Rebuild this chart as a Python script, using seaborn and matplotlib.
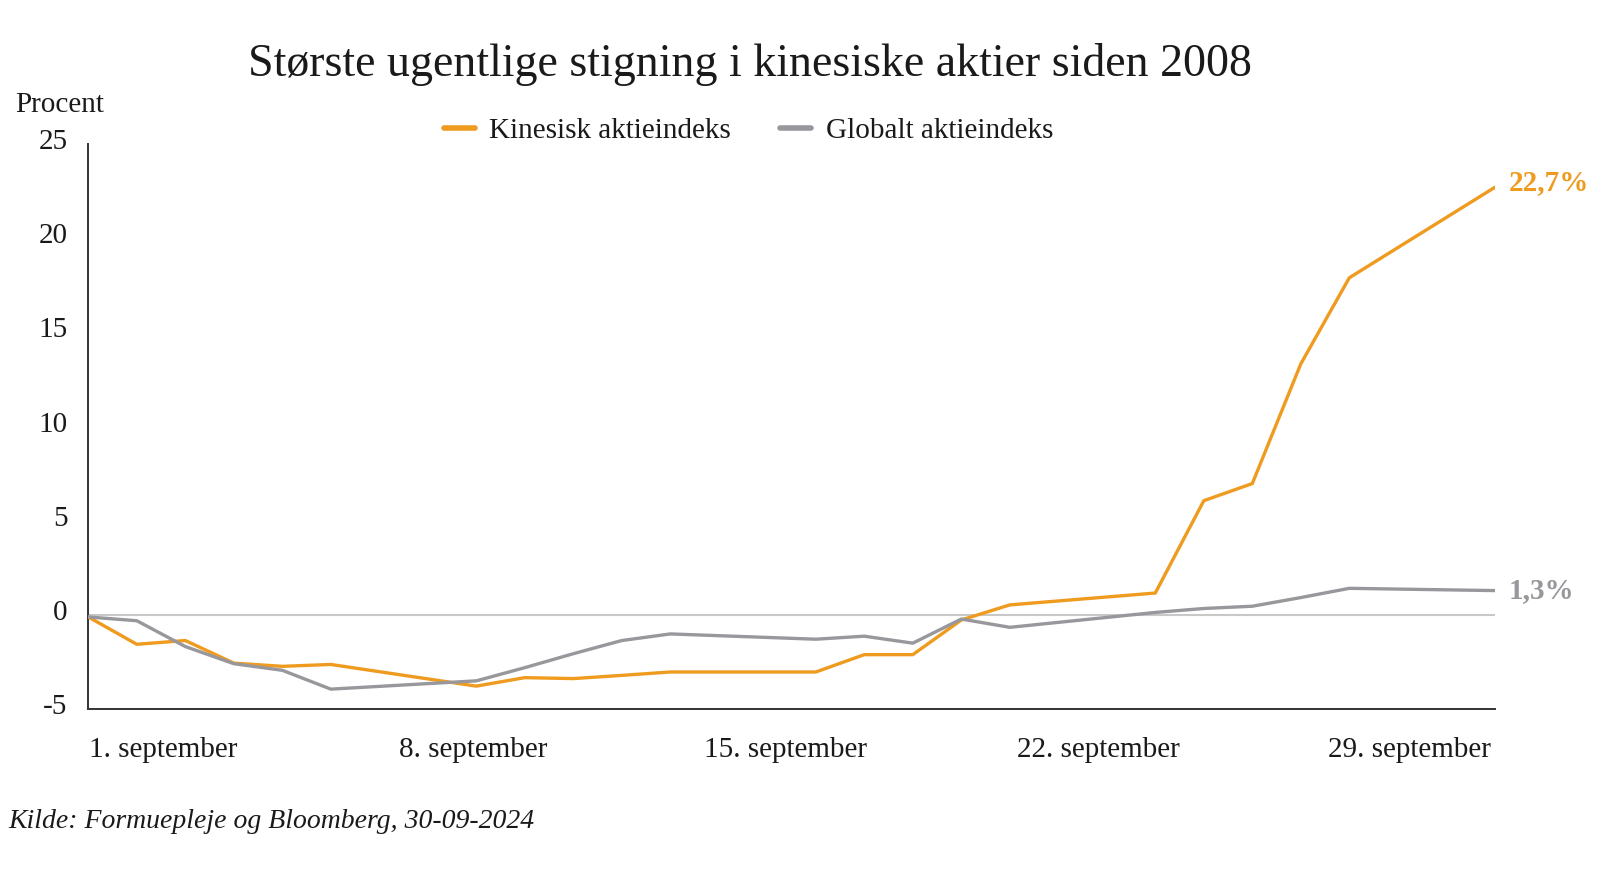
import matplotlib
matplotlib.use("Agg")
import matplotlib.pyplot as plt
import matplotlib.transforms as mtransforms
import seaborn as sns
import pandas as pd

# ---- data ----
days = [1, 2, 3, 4, 5, 6, 9, 10, 11, 12, 13, 16, 17, 18, 19, 20, 23, 24, 25, 26, 27, 30]
kinesisk = [-0.1, -1.55, -1.35, -2.55, -2.72, -2.62, -3.77, -3.32, -3.37, -3.2, -3.02,
            -3.02, -2.1, -2.1, -0.26, 0.54, 1.17, 6.07, 6.98, 13.33, 17.9, 22.7]
globalt = [-0.1, -0.3, -1.67, -2.58, -2.93, -3.93, -3.49, -2.79, -2.05, -1.35, -1.0,
           -1.28, -1.12, -1.49, -0.21, -0.65, 0.14, 0.35, 0.47, 0.93, 1.42, 1.3]
series_names = ["Kinesisk aktieindeks", "Globalt aktieindeks"]
end_labels = ["22,7%", "1,3%"]
xtick_pos = [2.55, 8.94, 15.37, 21.82, 28.23]
xtick_labels = ["1. september", "8. september", "15. september", "22. september", "29. september"]
yticks = [-5, 0, 5, 10, 15, 20, 25]

title = "Største ugentlige stigning i kinesiske aktier siden 2008"
ylabel = "Procent"
source = "Kilde: Formuepleje og Bloomberg, 30-09-2024"

ORANGE = "#EE9B1F"
GRAY = "#98989C"
colors = [ORANGE, GRAY]

df = pd.DataFrame({
    "dag": days * 2,
    "værdi": kinesisk + globalt,
    "serie": [series_names[0]] * len(days) + [series_names[1]] * len(days),
})

sns.set_theme(style="white")
plt.rcParams["font.family"] = ["Liberation Serif", "DejaVu Serif"]
plt.rcParams["text.color"] = "#1a1a1a"

fig = plt.figure(figsize=(16, 8.77), dpi=100)
ax = fig.add_axes([88.3 / 1600, 167.7 / 877, (1494.8 - 88.3) / 1600, (709.3 - 144.0) / 877])

ax.axhline(0, color="#c8c8c8", lw=1.5, zorder=1)
sns.lineplot(data=df, x="dag", y="værdi", hue="serie", palette=colors,
             hue_order=series_names, linewidth=2.4, ax=ax, legend=True, zorder=3)

ax.set_xlim(1, 30)
ax.set_ylim(-5, 25)
ax.set_xlabel("")
ax.set_ylabel("")

for s in ["top", "right"]:
    ax.spines[s].set_visible(False)
for s in ["left", "bottom"]:
    ax.spines[s].set_color("#333333")
    ax.spines[s].set_linewidth(1.4)

ax.set_yticks(yticks)
ax.set_yticklabels([str(v) for v in yticks])
ax.set_xticks(xtick_pos)
ax.set_xticklabels(xtick_labels)
ax.tick_params(axis="y", length=0, pad=15, labelsize=21, labelcolor="#1a1a1a")
ax.tick_params(axis="x", length=0, pad=20, labelsize=21, labelcolor="#1a1a1a")
offset = mtransforms.ScaledTranslation(0, 5 / 100, fig.dpi_scale_trans)
for lab in ax.get_yticklabels():
    lab.set_transform(lab.get_transform() + offset)
ax.grid(False)

# end labels
for vals, lab, col, dy in zip([kinesisk, globalt], end_labels, colors, [5, 0]):
    ax.annotate(lab, xy=(days[-1], vals[-1]), xytext=(14, dy), textcoords="offset pixels",
                ha="left", va="center", fontsize=21, fontweight="bold", color=col)

# legend
leg = ax.legend(loc="center", bbox_to_anchor=(748.5 / 1600, 1 - 130.5 / 877),
                bbox_transform=fig.transFigure, ncol=2, frameon=False, fontsize=21,
                handlelength=1.05, handletextpad=0.5, columnspacing=1.7)
for ln in leg.get_lines():
    ln.set_linewidth(4)

fig.text(750 / 1600, 1 - 65 / 877, title, ha="center", va="center", fontsize=33)
fig.text(15 / 1600, 1 - 105 / 877, ylabel, ha="left", va="center", fontsize=21)
fig.text(8 / 1600, 1 - 821 / 877, source, ha="left", va="center", fontsize=20, style="italic")

fig.savefig("out.png", dpi=100)
